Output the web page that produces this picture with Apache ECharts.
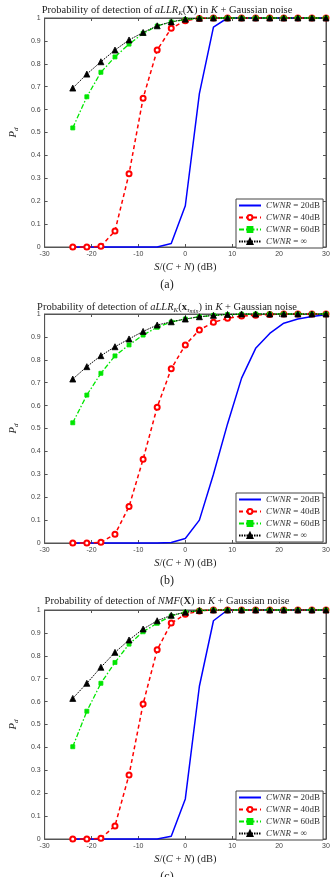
<!DOCTYPE html>
<html lang="en">
<head>
    <meta charset="UTF-8">
    <title>Probability of detection</title>
    <style>
        body{ margin:0; background:#fff; }
        #main{ width:334px; height:877px; }
    </style>
</head>
<body>
<div id="main"></div>
<script src="https://cdn.jsdelivr.net/npm/echarts@6/dist/echarts.min.js"></script>
<script>
    const myChart = echarts.init(document.getElementById('main'));

    // S/(C+N) in dB
    const snr = [-24, -21, -18, -15, -12, -9, -6, -3, 0, 3, 6, 9, 12, 15, 18, 21, 24, 27, 30];

    // (a) aLLR_K(X)
    const a20  = [0, 0, 0, 0, 0, 0, 0, 0.015, 0.18, 0.67, 0.96, 1, 1, 1, 1, 1, 1, 1, 1];
    const a40  = [0, 0, 0.003, 0.07, 0.32, 0.65, 0.86, 0.955, 0.988, 0.998, 1, 1, 1, 1, 1, 1, 1, 1, 1];
    const a60  = [0.52, 0.656, 0.763, 0.83, 0.886, 0.933, 0.965, 0.983, 0.993, 0.998, 1, 1, 1, 1, 1, 1, 1, 1, 1];
    const aInf = [0.694, 0.755, 0.809, 0.86, 0.904, 0.937, 0.966, 0.983, 0.995, 0.999, 1, 1, 1, 1, 1, 1, 1, 1, 1];

    // (b) aLLR_K(x_tau_min)
    const b20  = [0, 0, 0, 0, 0, 0, 0, 0.002, 0.02, 0.1, 0.3, 0.52, 0.72, 0.85, 0.915, 0.96, 0.978, 0.989, 0.997];
    const b40  = [0, 0, 0.003, 0.038, 0.159, 0.366, 0.593, 0.761, 0.865, 0.93, 0.964, 0.981, 0.991, 0.995, 0.998, 1, 1, 1, 1];
    const b60  = [0.525, 0.646, 0.741, 0.817, 0.865, 0.908, 0.942, 0.965, 0.978, 0.988, 0.994, 0.997, 0.999, 1, 1, 1, 1, 1, 1];
    const bInf = [0.716, 0.77, 0.818, 0.857, 0.891, 0.924, 0.952, 0.966, 0.978, 0.988, 0.994, 0.998, 1, 1, 1, 1, 1, 1, 1];

    // (c) NMF(X)
    const c20  = [0, 0, 0, 0, 0, 0, 0, 0.012, 0.175, 0.667, 0.953, 1, 1, 1, 1, 1, 1, 1, 1];
    const c40  = [0, 0, 0.003, 0.057, 0.28, 0.59, 0.826, 0.943, 0.981, 0.996, 1, 1, 1, 1, 1, 1, 1, 1, 1];
    const c60  = [0.403, 0.558, 0.68, 0.771, 0.851, 0.905, 0.942, 0.974, 0.99, 0.997, 1, 1, 1, 1, 1, 1, 1, 1, 1];
    const cInf = [0.614, 0.68, 0.75, 0.815, 0.869, 0.917, 0.953, 0.977, 0.99, 0.998, 1, 1, 1, 1, 1, 1, 1, 1, 1];

    const panels = [[a20, a40, a60, aInf], [b20, b40, b60, bInf], [c20, c40, c60, cInf]];
    const names = ['CWNR = 20dB', 'CWNR = 40dB', 'CWNR = 60dB', 'CWNR = ∞'];
    const captions = ['(a)', '(b)', '(c)'];

    const serif = 'Liberation Serif';
    const sans = 'Liberation Sans';
    const axisGray = '#555';

    // plot boxes
    const gridTops = [18, 314, 610];
    const gridH = 229;

    const txt = '#222';
    const rich = {
        n: { fontFamily: serif, fontSize: 10.5, fontWeight: 'normal', color: txt },
        i: { fontFamily: serif, fontSize: 10.5, fontWeight: 'normal', fontStyle: 'italic', color: txt },
        b: { fontFamily: serif, fontSize: 10.5, fontWeight: 'bold', color: txt },
        s: { fontFamily: serif, fontSize: 7, fontWeight: 'normal', fontStyle: 'italic', color: txt, padding: [6, 0, 0, 0] },
        ss: { fontFamily: serif, fontSize: 6, fontWeight: 'normal', fontStyle: 'italic', color: txt, padding: [8, 0, 0, 0] }
    };

    const titleTexts = [
        '{n|Probability of detection of }{i|aLLR}{s|K}{n|(}{b|X}{n|) in }{i|K}{n| + Gaussian noise}',
        '{n|Probability of detection of }{i|aLLR}{s|K}{n|(}{b|x}{s|τ}{ss|min}{n|) in }{i|K}{n| + Gaussian noise}',
        '{n|Probability of detection of }{i|NMF}{n|(}{b|X}{n|) in }{i|K}{n| + Gaussian noise}'
    ];

    const title = [];
    const grid = [];
    const xAxis = [];
    const yAxis = [];
    const legend = [];
    const series = [];

    const styles = [
        { color: '#0000ff', lineStyle: { width: 1.5, type: 'solid' }, symbol: 'none', symbolSize: 0 },
        { color: '#ff0000', lineStyle: { width: 1.5, type: [4, 3] }, symbol: 'emptyCircle', symbolSize: 5 },
        { color: '#00e600', lineStyle: { width: 1.3, type: [5, 2, 1.5, 2] }, symbol: 'rect', symbolSize: 4 },
        { color: '#000000', lineStyle: { width: 1, type: [1.5, 1] }, symbol: 'triangle', symbolSize: 6 }
    ];

    panels.forEach(function (sets, p) {
        const top = gridTops[p];
        title.push({
            text: titleTexts[p],
            left: 'center',
            top: top - 14,
            padding: 0,
            textStyle: { rich: rich, fontWeight: 'normal' }
        });
        title.push({
            text: captions[p],
            left: 'center',
            top: top + gridH + 27,
            textStyle: { fontFamily: serif, fontSize: 12, fontWeight: 'normal', color: txt }
        });
        grid.push({
            left: 36, top: top, width: 290, height: gridH,
            show: true, borderColor: axisGray, borderWidth: 1, backgroundColor: '#fff'
        });
        xAxis.push({
            type: 'value', gridIndex: p, min: -30, max: 30, interval: 10,
            position: 'bottom',
            name: '{i|S}{n|/(}{i|C}{n| + }{i|N}{n|) (dB)}',
            nameLocation: 'middle', nameGap: 15,
            nameTextStyle: { rich: rich },
            axisLine: { show: true, onZero: false, lineStyle: { color: axisGray, width: 1 } },
            axisTick: { inside: true, length: 3, lineStyle: { color: axisGray } },
            axisLabel: { fontFamily: sans, fontSize: 7, color: '#444', margin: 4 },
            splitLine: { show: false }
        });
        yAxis.push({
            type: 'value', gridIndex: p, min: 0, max: 1, interval: 0.1,
            position: 'left',
            name: '{i|P}{s|d}',
            nameLocation: 'middle', nameGap: 20, nameRotate: 90,
            nameTextStyle: { rich: rich },
            axisLine: { show: true, onZero: false, lineStyle: { color: axisGray, width: 1 } },
            axisTick: { inside: true, length: 3, lineStyle: { color: axisGray } },
            axisLabel: { fontFamily: sans, fontSize: 7, color: '#444', margin: 4 },
            splitLine: { show: false }
        });
        legend.push({
            left: 236, top: top + (p === 1 ? 179 : 181),
            orient: 'vertical',
            backgroundColor: '#fff', borderColor: '#444', borderWidth: 1,
            padding: [2, 3, 2, 2], itemGap: 3, itemWidth: 22, itemHeight: 6,
            data: names.map(function (n, k) {
                return k === 0 ? { name: n, itemStyle: { opacity: 0 } } : n;
            }),
            formatter: function (name) {
                return '{i|CWNR}{n|' + name.slice(4) + '}';
            },
            textStyle: {
                rich: {
                    i: { fontFamily: serif, fontSize: 9, fontStyle: 'italic', color: '#333' },
                    n: { fontFamily: serif, fontSize: 9, color: '#333' }
                }
            }
        });
        sets.forEach(function (vals, k) {
            const st = styles[k];
            series.push({
                name: names[k],
                type: 'line',
                xAxisIndex: p, yAxisIndex: p,
                data: snr.map(function (x, j) { return [x, vals[j]]; }),
                symbol: st.symbol, symbolSize: st.symbolSize,
                showSymbol: st.symbol !== 'none',
                clip: false,
                itemStyle: { color: st.color, borderColor: st.color, borderWidth: k === 1 ? 1.5 : 0.8 },
                lineStyle: Object.assign({ color: st.color }, st.lineStyle),
                emphasis: { disabled: true },
                animation: false,
                z: 2 + k
            });
        });
    });

    // mirrored top / right axes for the box ticks
    panels.forEach(function (sets, p) {
        xAxis.push({
            type: 'value', gridIndex: p, min: -30, max: 30, interval: 10, position: 'top',
            axisLine: { show: true, onZero: false, lineStyle: { color: axisGray } },
            axisTick: { inside: true, length: 3, lineStyle: { color: axisGray } },
            axisLabel: { show: false }, splitLine: { show: false }
        });
        yAxis.push({
            type: 'value', gridIndex: p, min: 0, max: 1, interval: 0.1, position: 'right',
            axisLine: { show: true, onZero: false, lineStyle: { color: axisGray } },
            axisTick: { inside: true, length: 3, lineStyle: { color: axisGray } },
            axisLabel: { show: false }, splitLine: { show: false }
        });
    });

    const option = {
        backgroundColor: '#fff',
        animation: false,
        title: title,
        grid: grid,
        xAxis: xAxis,
        yAxis: yAxis,
        legend: legend,
        series: series
    };

    myChart.setOption(option);
</script>
</body>
</html>
